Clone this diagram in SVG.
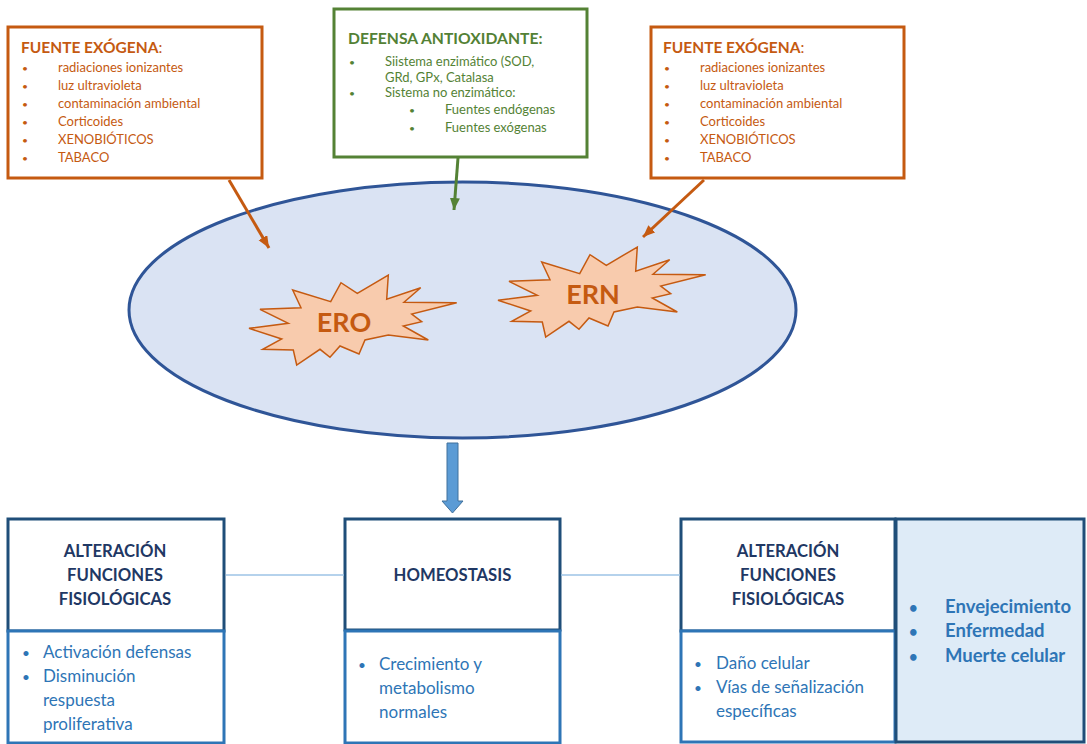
<svg xmlns="http://www.w3.org/2000/svg" width="1087" height="744" viewBox="0 0 1087 744">
<style>
text{font-family:Lato,"Liberation Sans",sans-serif}
.ob{fill:#fff;stroke:#C55A11;stroke-width:3}
.gb{fill:#fff;stroke:#548235;stroke-width:3}
.ot{fill:#C55A11;font-size:13px}
.oh{fill:#C55A11;font-size:15.5px;font-weight:bold}
.gt{fill:#548235;font-size:13px}
.gh{fill:#538135;font-size:15.7px;font-weight:bold}
.top{fill:#fff;stroke:#1F4E79;stroke-width:3}
.bot{fill:#fff;stroke:#2E75B6;stroke-width:3}
.hd{fill:#1F3864;font-size:16.7px;font-weight:bold;text-anchor:middle}
.bt{fill:#2E75B6;font-size:17px}
.bb{fill:#2E75B6;font-size:18.5px;font-weight:bold}
.bu{font-size:0.8em}
.star{fill:#F8CBAD;stroke:#C55A11;stroke-width:1.5;stroke-linejoin:miter}
.st{fill:#C55A11;font-size:27px;font-weight:bold;text-anchor:middle}
</style>
<defs>
<marker id="ao" markerUnits="userSpaceOnUse" markerWidth="14" markerHeight="12" refX="12" refY="5" orient="auto"><path d="M0,0 L12,5 L0,10 z" fill="#C55A11"/></marker>
<marker id="ag" markerUnits="userSpaceOnUse" markerWidth="14" markerHeight="12" refX="12" refY="5" orient="auto"><path d="M0,0 L12,5 L0,10 z" fill="#548235"/></marker>
<polygon id="burst" points="249,328.3 288.3,323.3 260,309.3 301,307.7 292.7,290 330.7,301.7 341,282.7 357.3,293.3 388.3,275 386.7,299.3 420.7,287.7 404,302.3 456.7,302.7 411.7,314 421.7,321.7 403.3,326 428.3,340 388.3,335 365,340 359,354 340,346 330,357.3 320,349.3 296.7,365 293.3,350 262.7,349.3 281.7,339"/>
</defs>
<rect width="1087" height="744" fill="#fff"/>

<g id="cell">
<ellipse cx="462.5" cy="310" rx="333.5" ry="128" fill="#DAE3F3" stroke="#2F5597" stroke-width="3"/>
</g>
<g id="ero">
<use href="#burst" class="star"/>
<text class="st" x="344" y="332">ERO</text>
</g>
<g id="ern">
<use href="#burst" class="star" transform="translate(249,-28)"/>
<text class="st" x="593" y="304">ERN</text>
</g>

<g id="fuente-izq">
<rect class="ob" x="8" y="27" width="254" height="151"/>
<text class="oh" x="21" y="53">FUENTE EXÓGENA<tspan font-weight="normal">:</tspan></text>
<g class="ot">
<text class="bu" x="22" y="72">•</text><text x="58" y="72">radiaciones ionizantes</text>
<text class="bu" x="22" y="90">•</text><text x="58" y="90">luz ultravioleta</text>
<text class="bu" x="22" y="108">•</text><text x="58" y="108">contaminación ambiental</text>
<text class="bu" x="22" y="126">•</text><text x="58" y="126">Corticoides</text>
<text class="bu" x="22" y="144">•</text><text x="58" y="144">XENOBIÓTICOS</text>
<text class="bu" x="22" y="162">•</text><text x="58" y="162">TABACO</text>
</g>
</g>

<g id="defensa">
<rect class="gb" x="334" y="9" width="253" height="148"/>
<text class="gh" x="348" y="44">DEFENSA ANTIOXIDANTE:</text>
<g class="gt">
<text class="bu" x="349" y="66">•</text><text x="385" y="66">Siistema enzimático (SOD,</text>
<text x="385" y="82">GRd, GPx, Catalasa</text>
<text class="bu" x="349" y="97">•</text><text x="385" y="97">Sistema no enzimático:</text>
<text class="bu" x="409" y="114">•</text><text x="445" y="114">Fuentes endógenas</text>
<text class="bu" x="409" y="132">•</text><text x="445" y="132">Fuentes exógenas</text>
</g>
</g>

<g id="fuente-der">
<rect class="ob" x="651" y="27" width="253" height="151"/>
<text class="oh" x="663" y="53">FUENTE EXÓGENA<tspan font-weight="normal">:</tspan></text>
<g class="ot">
<text class="bu" x="664" y="72">•</text><text x="700" y="72">radiaciones ionizantes</text>
<text class="bu" x="664" y="90">•</text><text x="700" y="90">luz ultravioleta</text>
<text class="bu" x="664" y="108">•</text><text x="700" y="108">contaminación ambiental</text>
<text class="bu" x="664" y="126">•</text><text x="700" y="126">Corticoides</text>
<text class="bu" x="664" y="144">•</text><text x="700" y="144">XENOBIÓTICOS</text>
<text class="bu" x="664" y="162">•</text><text x="700" y="162">TABACO</text>
</g>
</g>

<g id="alt-izq">
<rect class="top" x="8" y="519" width="216" height="112"/>
<rect class="bot" x="8" y="631" width="216" height="112"/>
<text class="hd" x="115" y="557">ALTERACIÓN</text>
<text class="hd" x="115" y="581">FUNCIONES</text>
<text class="hd" x="115" y="605">FISIOLÓGICAS</text>
<g class="bt">
<text class="bu" x="22" y="658">•</text><text x="43" y="658">Activación defensas</text>
<text class="bu" x="22" y="682">•</text><text x="43" y="682">Disminución</text>
<text x="43" y="706">respuesta</text>
<text x="43" y="730">proliferativa</text>
</g>
</g>

<g id="homeostasis">
<rect class="top" x="345" y="519" width="215" height="111"/>
<rect class="bot" x="345" y="631" width="215" height="112"/>
<text class="hd" x="452.5" y="581">HOMEOSTASIS</text>
<g class="bt">
<text class="bu" x="358" y="670">•</text><text x="379" y="670">Crecimiento y</text>
<text x="379" y="694">metabolismo</text>
<text x="379" y="718">normales</text>
</g>
</g>

<g id="alt-der">
<rect class="top" x="681" y="519" width="214" height="112"/>
<rect class="bot" x="681" y="631" width="214" height="111"/>
<text class="hd" x="788" y="557">ALTERACIÓN</text>
<text class="hd" x="788" y="581">FUNCIONES</text>
<text class="hd" x="788" y="605">FISIOLÓGICAS</text>
<g class="bt">
<text class="bu" x="694" y="669">•</text><text x="716" y="669">Daño celular</text>
<text class="bu" x="694" y="693">•</text><text x="716" y="693">Vías de señalización</text>
<text x="716" y="717">específicas</text>
</g>
</g>

<g id="consecuencias">
<rect x="896" y="519" width="188" height="223" fill="#DEEBF7" stroke="#1F4E79" stroke-width="3"/>
<g class="bb">
<text class="bu" x="909" y="613">•</text><text x="945" y="613">Envejecimiento</text>
<text class="bu" x="909" y="637">•</text><text x="945" y="637">Enfermedad</text>
<text class="bu" x="909" y="662">•</text><text x="945" y="662">Muerte celular</text>
</g>
</g>

<g id="connectors">
<line x1="229" y1="180" x2="269" y2="248" stroke="#C55A11" stroke-width="3" marker-end="url(#ao)"/>
<line x1="704" y1="180" x2="643" y2="237" stroke="#C55A11" stroke-width="3" marker-end="url(#ao)"/>
<line x1="458" y1="158" x2="454" y2="210" stroke="#548235" stroke-width="3" marker-end="url(#ag)"/>
<path d="M447,443 H458 V501 H463 L452.5,513 L442,501 H447 Z" fill="#5B9BD5" stroke="#41719C" stroke-width="1"/>
<line x1="226" y1="575" x2="344" y2="575" stroke="#9DC3E6" stroke-width="1.5"/>
<line x1="561" y1="575" x2="680" y2="575" stroke="#9DC3E6" stroke-width="1.5"/>
</g>
</svg>
